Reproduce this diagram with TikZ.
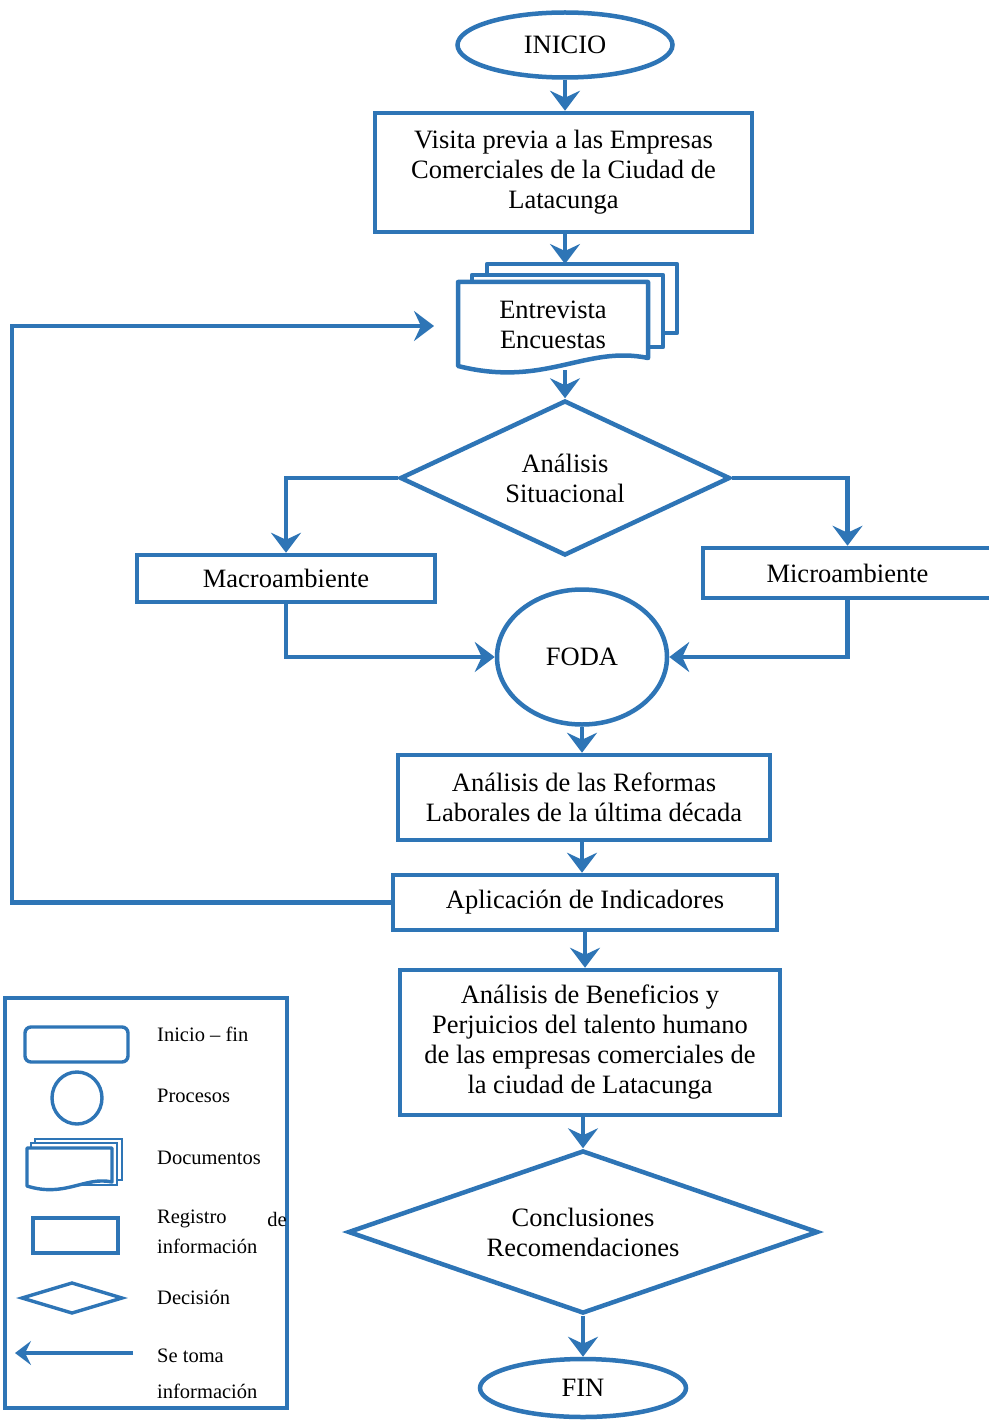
\documentclass[tikz,border=0pt]{standalone}
\usepackage{fontspec}
\setmainfont{Liberation Serif}
\usetikzlibrary{shapes.geometric,arrows.meta}
\definecolor{fblue}{RGB}{46,117,182}
\begin{document}
\begin{tikzpicture}[x=1pt,y=-1pt,
  shp/.style={draw=fblue,line width=4.5pt,fill=white,inner sep=0pt,align=center,font=\fontsize{26.5}{30}\selectfont},
  proc/.style={shp,rectangle},
  oval/.style={shp,ellipse},
  dec/.style={shp,diamond,aspect=2},
  arr/.style={draw=fblue,line width=4.5pt,-{Stealth[length=20pt,width=30pt,inset=7pt]}},
  sheet/.style={draw=fblue,line width=4.5pt,fill=white,line join=round},
  lg/.style={draw=fblue,line width=3.4pt,fill=white},
  lgt/.style={anchor=west,inner sep=0pt,font=\fontsize{20.5}{22}\selectfont}]
\useasboundingbox (0,0) rectangle (988,1420);
\fill[white] (0,0) rectangle (988,1420);

% main flow nodes
\node[oval,minimum width=215pt,minimum height=65pt] (start) at (565,45) {INICIO};
\node[proc,minimum width=377pt,minimum height=119pt] (b1) at (563.5,172.5)
  {Visita previa a las Empresas\\Comerciales de la Ciudad de\\Latacunga};

% document stack
\draw[sheet] (487,264) rectangle (677,333);
\draw[sheet] (472,275) rectangle (663,347);
\draw[sheet] (458,366) -- (458,282) -- (648,282) -- (648,358)
  .. controls (585,345) and (545,388) .. (458,366) -- cycle;
\node[inner sep=0pt,align=center,font=\fontsize{26.5}{30}\selectfont,minimum width=190pt,minimum height=84pt] (doc) at (553,325) {Entrevista\\Encuestas};
\coordinate (doctop) at (565,264);
\coordinate (docbot) at (565,370);
\coordinate (fbend) at (434,326);
\coordinate (fb) at (12,326);

\node[dec,minimum width=330pt,minimum height=155pt] (d1) at (565,478) {Análisis\\Situacional};
\node[proc,minimum width=298pt,minimum height=47pt] (macro) at (286,578.5) {Macroambiente};
\node[proc,minimum width=289pt,minimum height=50pt] (micro) at (847.5,573) {Microambiente};
\node[oval,minimum width=170pt,minimum height=135pt] (foda) at (582,657) {FODA};
\node[proc,minimum width=372pt,minimum height=85pt] (b2) at (584,797.5)
  {Análisis de las Reformas\\Laborales de la última década};
\node[proc,minimum width=384pt,minimum height=55pt] (b3) at (585,902.5) {Aplicación de Indicadores};
\node[proc,minimum width=380pt,minimum height=145pt] (b4) at (590,1042.5)
  {Análisis de Beneficios y\\Perjuicios del talento humano\\de las empresas comerciales de\\la ciudad de Latacunga};
\node[dec,minimum width=470pt,minimum height=163pt] (d2) at (583,1232) {Conclusiones\\Recomendaciones};
\node[oval,minimum width=206pt,minimum height=58pt] (fin) at (583,1388) {FIN};

% connectors
\draw[arr] (start.south) -- (start.south |- b1.north);
\draw[arr] (b1.south -| start.south) -- (start.south |- doctop);
\draw[arr] (docbot) -- (d1.north);
\draw[arr] (d1.west) -| (macro.north);
\draw[arr] (d1.east) -| (micro.north);
\draw[arr] (macro.south) |- (foda.west);
\draw[arr] (micro.south) |- (foda.east);
\draw[arr] (foda.south) -- (foda.south |- b2.north);
\draw[arr] (b2.south -| foda.south) -- (foda.south |- b3.north);
\draw[arr] (b3.south) -- (b3.south |- b4.north);
\draw[arr] (b4.south -| d2.north) -- (d2.north);
\draw[arr] (d2.south) -- (fin.north);
\draw[arr] (b3.west) -| (fb) -- (fbend);

% legend
\draw[draw=fblue,line width=3.8pt] (5,998) rectangle (287,1408);
\draw[lg,rounded corners=6pt] (25,1027) rectangle (128,1062);
\draw[lg] (77,1098) ellipse [x radius=25, y radius=26];
\draw[lg,line width=2.8pt] (35,1139) rectangle (122,1180);
\draw[lg,line width=2.8pt] (31,1143) rectangle (117,1185);
\draw[lg,line join=round] (27,1186) -- (27,1148) -- (112,1148) -- (112,1182)
  .. controls (85,1176) and (65,1198) .. (27,1186) -- cycle;
\draw[lg] (33,1218) rectangle (118,1253);
\draw[lg] (22,1298) -- (72,1283) -- (122,1298) -- (72,1313) -- cycle;
\coordinate (la1) at (133,1353);
\coordinate (la2) at (15,1353);
\draw[draw=fblue,line width=3.6pt,-{Stealth[length=16pt,width=24pt,inset=6pt]}] (la1) -- (la2);

\node[lgt] (t1) at (157,1034) {Inicio – fin};
\node[lgt] (t2) at (157,1096) {Procesos};
\node[lgt] (t3) at (157,1158) {Documentos};
\node[lgt] (t4) at (157,1219) {Registro};
\node[lgt,anchor=east] (t4b) at (287,1219) {de};
\node[lgt] (t5) at (157,1246) {información};
\node[lgt] (t6) at (157,1297) {Decisión};
\node[lgt] (t7) at (157,1356) {Se toma};
\node[lgt] (t8) at (157,1391) {información};
\end{tikzpicture}
\end{document}
